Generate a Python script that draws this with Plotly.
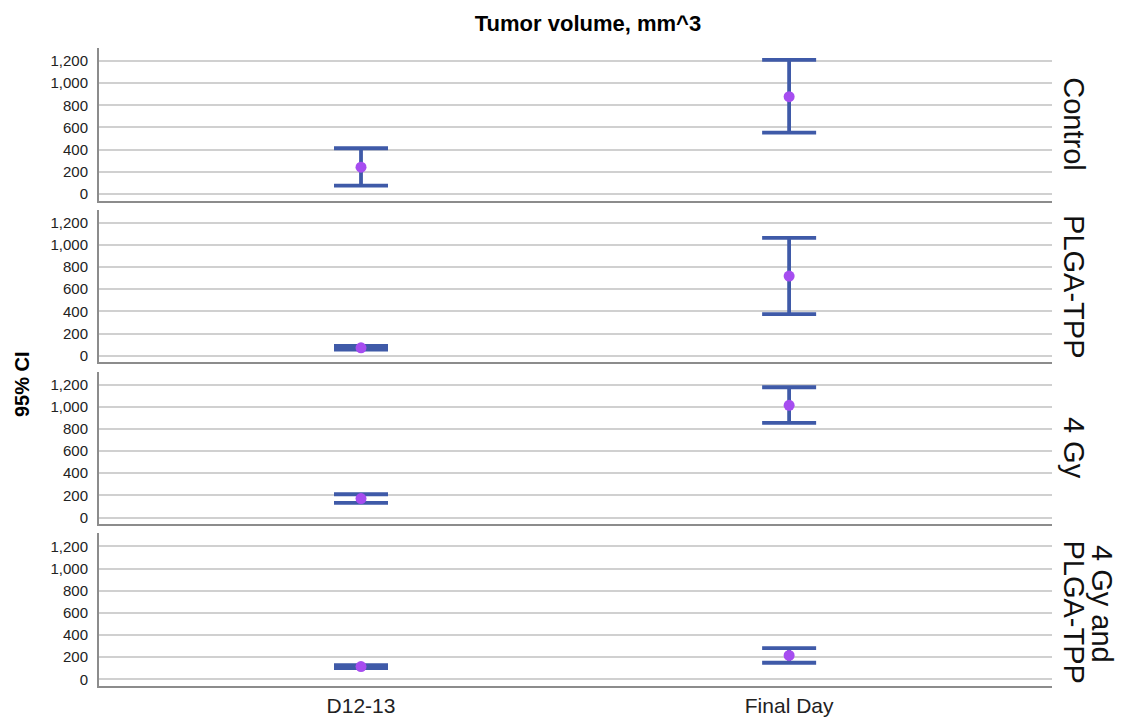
import plotly.graph_objects as go

categories = ["D12-13", "Final Day"]
groups = ["Control", "PLGA-TPP", "4 Gy", "4 Gy and PLGA-TPP"]
mean_vals = [[241, 878], [71, 719], [171, 1013], [115, 216]]
upper_vals = [[412, 1209], [88, 1063], [210, 1176], [129, 282]]
lower_vals = [[75, 553], [54, 376], [133, 854], [101, 150]]
y_ticks = [0, 200, 400, 600, 800, 1000, 1200]

BLUE = "#3f5aa8"
PURPLE = "#a64df0"
FONT = "Liberation Sans, Arial, sans-serif"
W, H = 1122, 722
L, R, T, B = 99, 70, 48, 36
ph = (H - T - B)
gap = 9.3
panel_h = (ph - 3 * gap) / 4


def px_to_paper(py):
    return (H - B - py) / ph


fig = go.Figure()
xpos = list(range(len(categories)))
for i, g in enumerate(groups):
    idx = "" if i == 0 else str(i + 1)
    top_px = T + i * (panel_h + gap)
    bot_px = top_px + panel_h
    dom = [max(0.0, px_to_paper(bot_px)), min(1.0, px_to_paper(top_px))]
    m = mean_vals[i]
    up = [u - v for u, v in zip(upper_vals[i], m)]
    dn = [v - l for l, v in zip(lower_vals[i], m)]
    fig.add_trace(go.Scatter(
        x=xpos, y=m, mode="markers",
        xaxis="x" + idx, yaxis="y" + idx,
        marker=dict(color=PURPLE, size=11),
        error_y=dict(type="data", array=up, arrayminus=dn, color=BLUE,
                     thickness=3.8, width=27, visible=True),
        showlegend=False, hoverinfo="skip"))
    last = (i == len(groups) - 1)
    fig.layout["xaxis" + idx] = dict(
        domain=[0, 1], range=[-0.612, 1.614], anchor="y" + idx,
        tickvals=xpos, ticktext=categories, showticklabels=last,
        showgrid=False, zeroline=False, showline=True, linecolor="#8c8c8c",
        linewidth=2, ticks="", automargin=False, ticklabelstandoff=0,
        tickfont=dict(size=21, color="#222", family=FONT),
        **({} if i == 0 else {"matches": "x"}))
    fig.layout["yaxis" + idx] = dict(
        domain=dom, range=[-60, 1317], anchor="x" + idx,
        tickvals=y_ticks, tickformat=",", showgrid=True,
        gridcolor="#d0d0d0", gridwidth=2, zeroline=False,
        showline=True, linecolor="#8c8c8c", linewidth=2, ticks="",
        ticklabelstandoff=6, automargin=False,
        tickfont=dict(size=15, color="#222", family=FONT))
    yc = (dom[0] + dom[1]) / 2
    if i < 3:
        fig.add_annotation(
            x=1.0, xref="paper", y=yc, yref="paper", text=g, showarrow=False,
            textangle=90, xanchor="left", yanchor="middle", xshift=4,
            font=dict(size=29, color="#111", family=FONT))
    else:
        line1, line2 = "4 Gy and", "PLGA-TPP"
        fig.add_annotation(
            x=1.0, xref="paper", y=px_to_paper(538), yref="paper", text=line2,
            showarrow=False, textangle=90, xanchor="left", yanchor="top", xshift=4,
            font=dict(size=29, color="#111", family=FONT))
        fig.add_annotation(
            x=1.0, xref="paper", y=px_to_paper(543), yref="paper", text=line1,
            showarrow=False, textangle=90, xanchor="left", yanchor="top", xshift=32,
            font=dict(size=29, color="#111", family=FONT))

fig.update_layout(
    width=W, height=H, margin=dict(l=L, r=R, t=T, b=B),
    paper_bgcolor="white", plot_bgcolor="white",
    title=dict(text="<b>Tumor volume, mm^3</b>", x=588 / W, xanchor="center",
               y=1 - 23 / H, yanchor="middle",
               font=dict(size=22, color="#000", family=FONT)),
    font=dict(family=FONT),
)
fig.add_annotation(
    x=(22 - L) / (W - L - R), xref="paper", y=px_to_paper(384), yref="paper",
    text="<b>95% CI</b>", showarrow=False, textangle=-90,
    xanchor="center", yanchor="middle",
    font=dict(size=20, color="#000", family=FONT))

fig.write_html("out.html")
